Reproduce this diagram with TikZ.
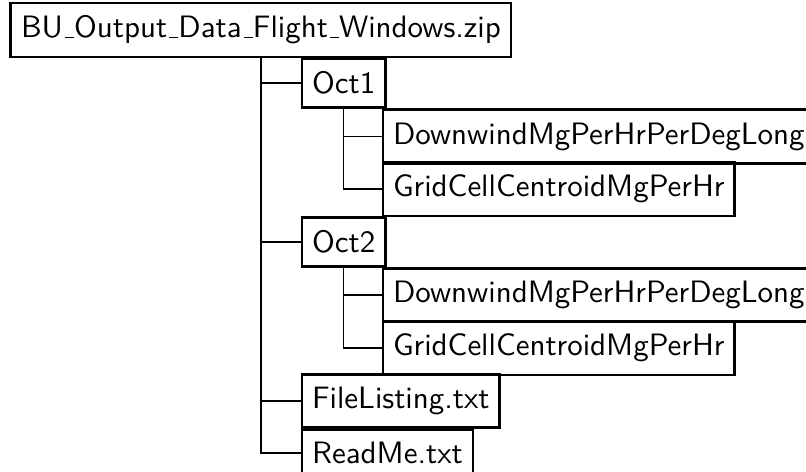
\documentclass[tikz,border=0pt]{standalone}
\newcommand{\usc}{\leavevmode\kern.06em\vbox{\hrule width.3em}}
\begin{document}
\begin{tikzpicture}[x=0.3279pt,y=-0.3279pt,
  fbox/.style={draw=black,line width=0.9pt,anchor=west,inner xsep=3.35pt,inner ysep=4.2pt,font=\sffamily\fontsize{10.15}{12}\selectfont},
  conn/.style={draw=black,line width=0.4pt}]
\useasboundingbox (0,0) rectangle (806,472);
\node[fbox] (root) at (9.5,30) {BU\usc Output\usc Data\usc Flight\usc Windows.zip};
\node[fbox] (oct1) at (300.5,83) {Oct1};
\node[fbox] (dw1) at (381.5,136.5) {DownwindMgPerHrPerDegLong};
\node[fbox] (gc1) at (381.5,189) {GridCellCentroidMgPerHr};
\node[fbox] (oct2) at (300.5,242) {Oct2};
\node[fbox] (dw2) at (381.5,295) {DownwindMgPerHrPerDegLong};
\node[fbox] (gc2) at (381.5,348) {GridCellCentroidMgPerHr};
\node[fbox] (fl) at (300.5,401) {FileListing.txt};
\node[fbox] (rm) at (300.5,453) {ReadMe.txt};
\draw[conn] (root.south) |- (oct1.west);
\draw[conn] (root.south) |- (oct2.west);
\draw[conn] (root.south) |- (fl.west);
\draw[conn] (root.south) |- (rm.west);
\draw[conn] (oct1.south) |- (dw1.west);
\draw[conn] (oct1.south) |- (gc1.west);
\draw[conn] (oct2.south) |- (dw2.west);
\draw[conn] (oct2.south) |- (gc2.west);
\end{tikzpicture}
\end{document}
